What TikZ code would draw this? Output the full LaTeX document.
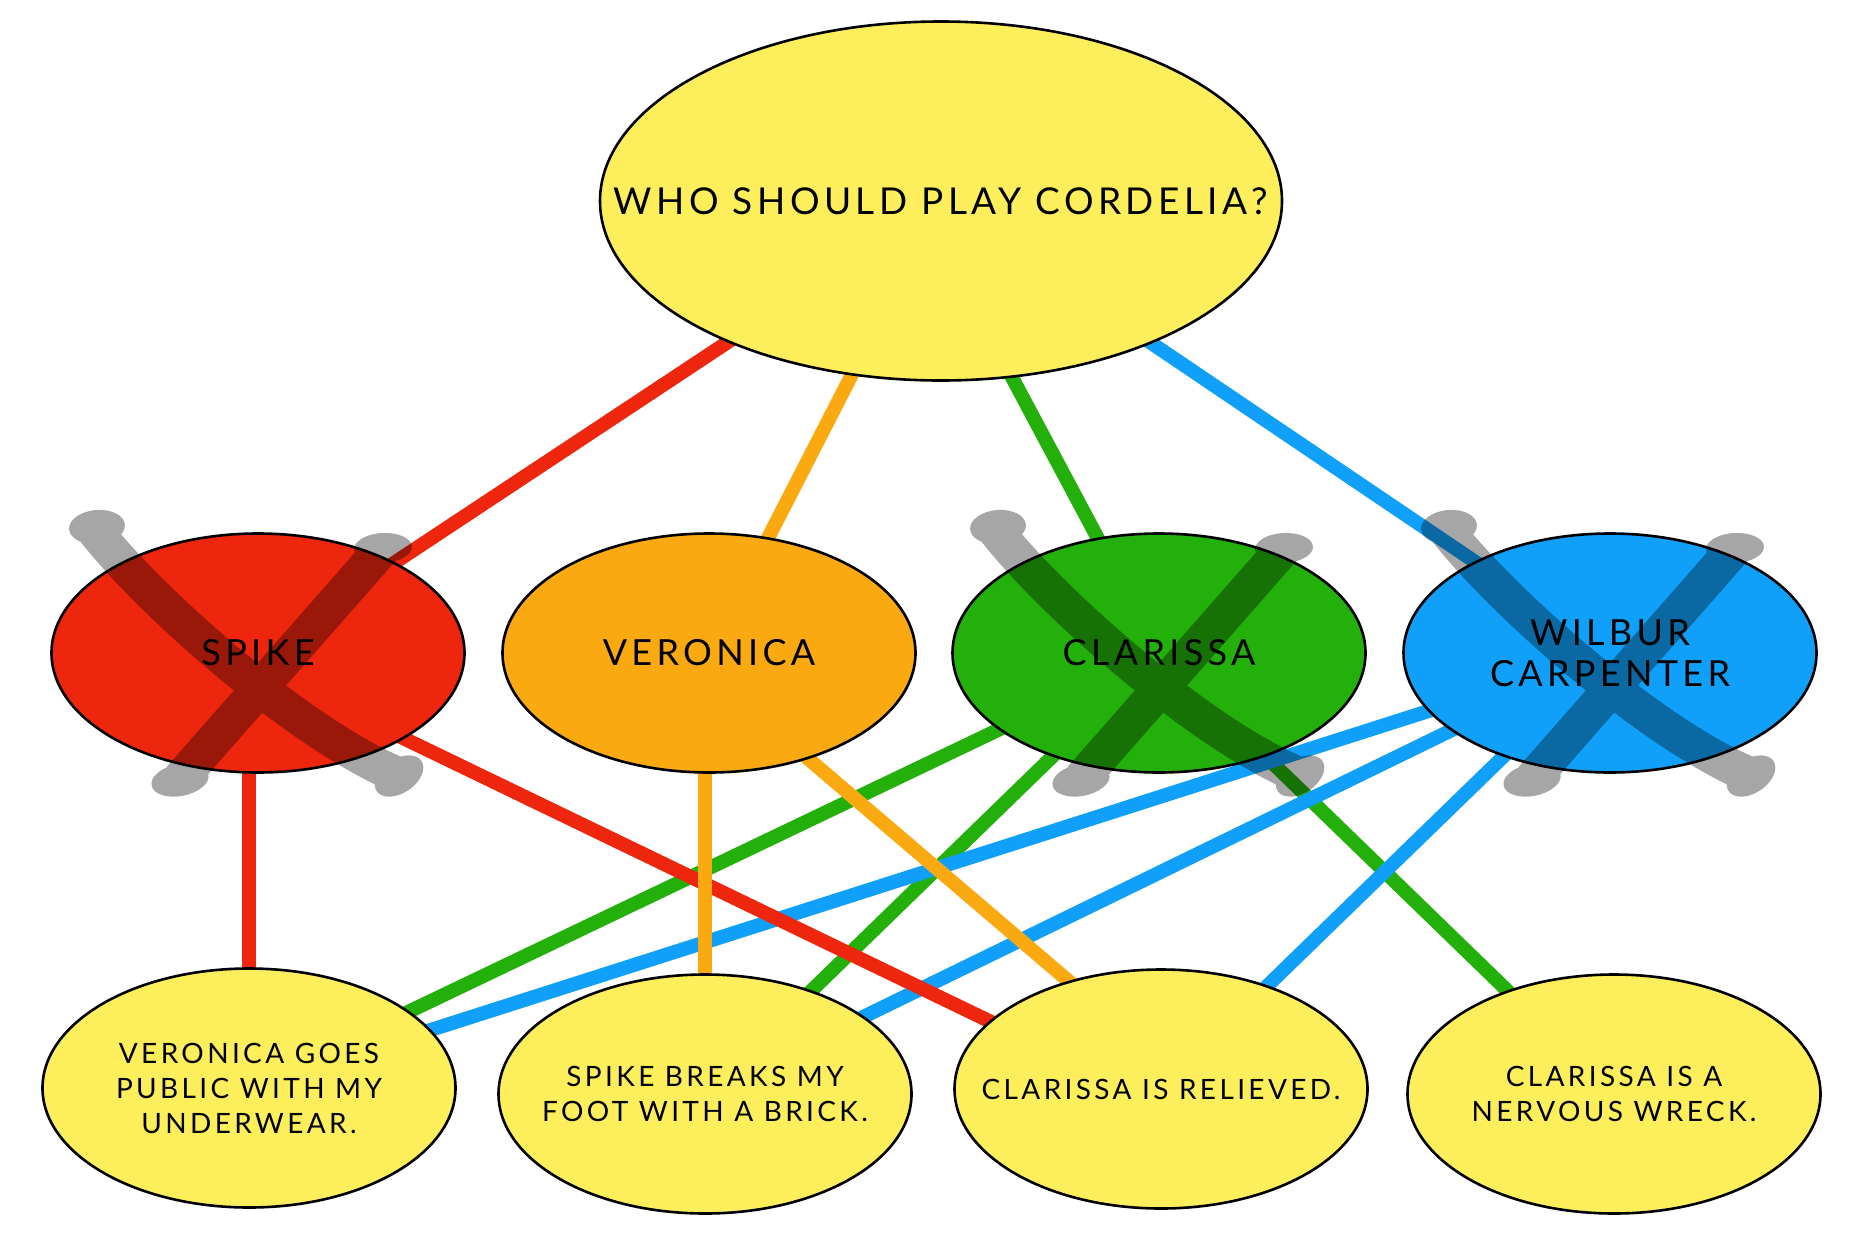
\documentclass[tikz,border=0pt]{standalone}
\usepackage{fontspec}
\setmainfont{Lato}[LetterSpace=12]
\usetikzlibrary{shapes.geometric,backgrounds}
\definecolor{sun}{RGB}{253,239,92}
\definecolor{flame}{RGB}{238,38,14}
\definecolor{amber}{RGB}{250,170,16}
\definecolor{grass}{RGB}{36,176,10}
\definecolor{sky}{RGB}{16,160,250}
\tikzset{
  bubble/.style={ellipse,draw=black,line width=1.3pt,fill=#1,inner xsep=-45pt,
    inner ysep=-12pt,minimum width=206.5pt,minimum height=119.5pt,align=center},
  bubble/.default=sun,
  question/.style={bubble,minimum width=341pt,minimum height=179.5pt,
    font=\fontsize{18.5}{22}\selectfont},
  suitor/.style={bubble=#1,font=\fontsize{18}{20.5}\selectfont},
  outcome/.style={bubble,font=\fontsize{14}{17.5}\selectfont},
  link/.style={line width=7pt,draw=#1},
  % brush-stroke cross over a rejected candidate
  pics/veto/.style={code={
    \begin{scope}[transparency group,opacity=.35]
      \draw[line width=18pt] (-163,-122) .. controls (-103,-46) and (44,82) .. (140,122);
      \draw[line width=18pt] (-78,126) -- (124,-104);
      \fill (-161,-126) circle [x radius=28,y radius=17,rotate=5];
      \fill (141,123) circle [x radius=27,y radius=17,rotate=34];
      \fill (125,-105) circle [x radius=29,y radius=15,rotate=3];
      \fill (-78,127) circle [x radius=29,y radius=16,rotate=11];
    \end{scope}
  }},
}

\begin{document}
\begin{tikzpicture}[x=0.5pt,y=-0.5pt]
  \useasboundingbox (0,0) rectangle (1852,1232);
  \node[question] (question) at (941,201) {WHO SHOULD PLAY CORDELIA?};

  \node[suitor=flame] (spike) at (258,653) {SPIKE};
  \node[suitor=amber] (veronica) at (709,653) {VERONICA};
  \node[suitor=grass] (clarissa) at (1159,653) {CLARISSA};
  \node[suitor=sky] (wilbur) at (1610,653) {WILBUR\\CARPENTER};

  \node[outcome] (goes) at (249,1088) {VERONICA GOES\\PUBLIC WITH MY\\UNDERWEAR.};
  \node[outcome] (breaks) at (705,1094) {SPIKE BREAKS MY\\FOOT WITH A BRICK.};
  \node[outcome] (relieved) at (1161,1089) {CLARISSA IS RELIEVED.};
  \node[outcome] (wreck) at (1614,1094) {CLARISSA IS A\\NERVOUS WRECK.};

  \begin{scope}[on background layer]
    \fill[white] (0,0) rectangle (1852,1232);
    \foreach \a/\b/\c in {question/spike/flame,question/veronica/amber,
      question/wilbur/sky,clarissa/goes/grass,
      clarissa/breaks/grass,clarissa/wreck/grass,wilbur/goes/sky,
      wilbur/breaks/sky,wilbur/relieved/sky}
      \draw[link=\c] (\a.center) -- (\b.center);
    \draw[link=grass] ([xshift=-11.5pt]question.center) -- (clarissa.center);
    \draw[link=flame] (goes.center |- spike.center) -- (goes.center);
    \draw[link=flame] ([yshift=-7.5pt]spike.center) -- ([yshift=-7.5pt]relieved.center);
    \draw[link=amber] (breaks.center |- veronica.center) -- (breaks.center);
    \draw[link=amber] ([yshift=-10.5pt]veronica.center) -- ([yshift=14.5pt]relieved.center);
  \end{scope}

  \foreach \n in {spike,clarissa,wilbur}
    \pic at (\n.center) {veto};
\end{tikzpicture}
\end{document}
